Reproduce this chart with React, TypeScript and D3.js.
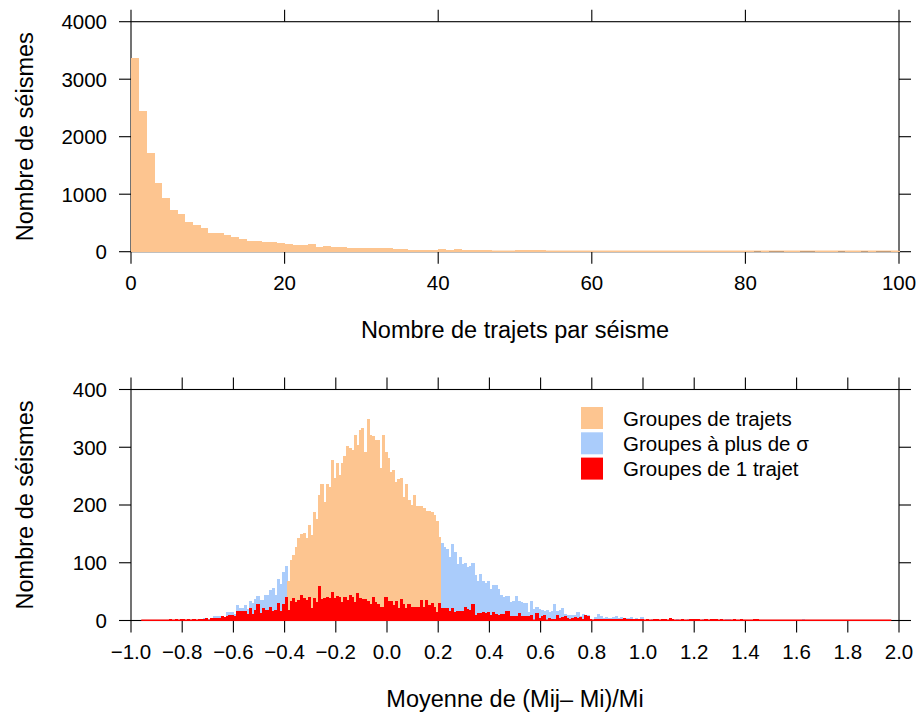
import React from "react";
import * as d3 from "d3";

// ---------- DATA ----------
// Top panel: number of paths per earthquake (bins of width 1, starting at 0)
const trajetsStart = 0;
const trajetsBinWidth = 1;
const trajetsCounts = [
  3370, 2445, 1717, 1196, 942, 728, 647, 520, 457, 416,
  329, 318, 295, 249, 225, 191, 191, 162, 162, 145,
  127, 110, 110, 127, 75, 104, 87, 87, 69, 69,
  69, 69, 69, 69, 52, 52, 35, 35, 35, 35,
  52, 35, 52, 35, 35, 35, 35, 17, 17, 17,
  35, 35, 35, 35, 17, 17, 17, 17, 17, 17,
  17, 17, 17, 17, 17, 17, 17, 17, 17, 17,
  17, 17, 17, 17, 17, 17, 17, 17, 17, 17,
  17, 0, 17, 0, 0, 17, 17, 0, 0, 17,
  17, 17, 0, 17, 17, 0, 17, 0, 0, 17,
];
const topXTicks = [0, 20, 40, 60, 80, 100];
const topYTicks = [0, 1000, 2000, 3000, 4000];

// Bottom panel: mean of (Mij - Mi)/Mi (bins of width 0.01)
const ratioBinWidth = 0.01;
const groupStart = -0.72; // all groups of paths
const groupCounts = [
  4, 5, 2, 3, 7, 7, 7, 7, 6, 14,
  14, 14, 11, 26, 22, 22, 26, 20, 33, 30,
  38, 42, 35, 35, 45, 45, 53, 57, 45, 71,
  64, 84, 94,
  69, 104, 113, 128, 143, 150, 151, 142, 166, 148,
  188, 175, 218, 236, 205, 236, 231, 278, 247, 273,
  252, 273, 284, 302, 298, 296, 321, 304, 330, 334,
  291, 349, 322, 319, 313, 313, 264, 321, 291, 282,
  257, 261, 240, 245, 247, 214, 237, 208, 200, 218,
  198, 198, 199, 195, 190, 190, 188, 182, 173, 145,
  134, 127, 123, 110, 132, 119, 98, 110, 97, 100,
  93, 94, 100, 78, 68, 81, 69, 65, 69, 54,
  62, 61, 55, 45, 40, 42, 43, 32, 33, 42,
  33, 32, 31, 31, 14, 33, 20, 24, 20, 19,
  17, 19, 15, 17, 28, 17, 19, 22, 12, 9,
  10, 10, 10, 14, 7, 12, 10, 9, 1, 3,
  6, 12, 7, 4, 6, 4, 5, 6, 7, 5,
  6, 5, 5, 5, 6, 2, 5,
  0, 6, 0, 0, 0, 2, 0, 0, 0, 2,
  0, 0, 0, 0, 0, 3, 0, 0, 0, 3,
  0, 0, 0, 2, 0, 3, 0, 0, 0, 3,
  2, 0, 0, 0, 2, 2, 0, 0, 0, 0,
  0, 0, 0, 0, 0, 0, 0, 0, 0, 0,
  0, 0, 0, 0, 0, 0, 0, 0, 0, 0,
  0, 0, 0, 0, 2,
];
const singleStart = -0.96; // groups of a single path
const singleCounts = [
  0, 0, 0, 0, 0, 0, 0, 0, 0, 0, 0,
  3, 0, 3, 0, 3, 3, 0, 3, 0, 3,
  0, 3, 3, 3, 5, 1, 5, 5, 5, 5,
  7, 6, 8, 9, 10, 8, 17, 16, 16, 16,
  12, 22, 12, 19, 28, 13, 22, 19, 19, 24,
  16, 19, 30, 17, 28, 40, 19,
  33, 39, 32, 35, 45, 39, 36, 40, 21, 39,
  32, 59, 38, 39, 41, 39, 49, 39, 42, 41,
  32, 40, 36, 45, 41, 32, 47, 39, 38, 38,
  33, 28, 40, 32, 28, 23, 23, 40, 33, 33,
  26, 33, 22, 38, 29, 21, 28, 23, 24, 23,
  24, 35, 24, 36, 27, 31, 23, 14, 30,
  21, 21, 21, 16, 21, 14, 16, 16, 16, 23,
  20, 19, 28, 9, 13, 13, 14, 13, 14, 10,
  14, 12, 10, 12, 12, 17, 16, 7, 7, 7,
  13, 7, 7, 7, 7, 10, 1, 13, 5, 7,
  9, 1, 5, 2, 2, 9, 5, 6, 7, 5,
  3, 5, 6, 5, 6, 3, 9, 7, 3, 1,
  3, 3, 2, 3, 2, 3, 2, 2, 2, 2,
  2, 5, 2, 2, 3, 2, 2,
  2, 2, 0, 2, 1, 0, 2, 3, 0, 2,
  2, 0, 5, 3, 0, 1, 0, 2, 0, 0,
  3, 3, 2, 2, 0, 0, 2, 0, 2, 2,
  3, 0, 2, 0, 0, 0, 0, 2, 0, 0,
  2, 1, 0, 0, 0, 2, 2, 0, 0, 0,
  0, 0, 0, 0, 0, 0, 0, 0, 0, 0,
  0, 0, 0, 0, 0, 0, 0, 0, 0, 0,
  0, 0, 0, 0, 0, 0, 0, 0, 0, 0,
  0, 0, 0, 0, 0, 0, 0, 0, 0, 0,
  0, 0, 0, 0, 0, 0, 0, 0, 0, 0,
];
const singleLineEnd = 1.97;
const sigmaRange = [-0.39, 0.21];
const bottomXTicks = d3.range(0, 16).map((i) => -1 + i * 0.2);
const bottomYTicks = [0, 100, 200, 300, 400];

const legendLabels = ["Groupes de trajets", "Groupes à plus de σ", "Groupes de 1 trajet"];
const ORANGE = "#FDC590";
const BLUE = "#AACCFB";
const RED = "#FF0000";
const legendColors = [ORANGE, BLUE, RED];

const FONT = "'Liberation Sans', Arial, Helvetica, sans-serif";
const TICK_FS = 20.5;
const TITLE_FS = 23.5;
const TICK_LEN = 12;

// ---------- LAYOUT ----------
const X0 = 131;
const X1 = 899;

type Scale = d3.ScaleLinear<number, number>;

function Frame({
  x, y, xTicks, yTicks, xFormat, labelBaseline,
}: {
  x: Scale; y: Scale; xTicks: number[]; yTicks: number[];
  xFormat: (v: number) => string; labelBaseline: number;
}) {
  const [xa, xb] = x.range();
  const [yb, ya] = y.range();
  const stroke = "#000";
  return (
    <g fill="none" stroke={stroke} strokeWidth={1.1}>
      <rect x={xa} y={ya} width={xb - xa} height={yb - ya} />
      {xTicks.map((t, i) => (
        <g key={"x" + i}>
          <line x1={x(t)} x2={x(t)} y1={yb} y2={yb + TICK_LEN} />
          <line x1={x(t)} x2={x(t)} y1={ya} y2={ya - TICK_LEN} />
          <text
            x={x(t)} y={labelBaseline} textAnchor="middle" stroke="none" fill="#000"
            fontFamily={FONT} fontSize={TICK_FS}
          >
            {xFormat(t)}
          </text>
        </g>
      ))}
      {yTicks.map((t, i) => (
        <g key={"y" + i}>
          <line x1={xa - TICK_LEN} x2={xa} y1={y(t)} y2={y(t)} />
          <line x1={xb} x2={xb + TICK_LEN} y1={y(t)} y2={y(t)} />
          <text
            x={xa - 24} y={y(t) + 7.3} textAnchor="end" stroke="none" fill="#000"
            fontFamily={FONT} fontSize={TICK_FS}
          >
            {String(t)}
          </text>
        </g>
      ))}
    </g>
  );
}

function Bars({
  counts, start, width, x, y, color,
}: {
  counts: number[]; start: number; width: number; x: Scale; y: Scale;
  color: (lo: number) => string;
}) {
  return (
    <g shapeRendering="crispEdges">
      {counts.map((c, i) => {
        if (c <= 0) return null;
        const lo = start + i * width;
        const hi = lo + width;
        const px0 = x(lo);
        const px1 = x(hi);
        return (
          <rect
            key={i}
            x={px0}
            y={y(c)}
            width={px1 - px0 + 0.5}
            height={y(0) - y(c)}
            fill={color(lo + width / 2)}
          />
        );
      })}
    </g>
  );
}

export default function App() {
  const xTop = d3.scaleLinear().domain([0, 100]).range([X0, X1]);
  const yTop = d3.scaleLinear().domain([0, 4000]).range([251.7, 21.7]);
  const xBot = d3.scaleLinear().domain([-1, 2]).range([X0, X1]);
  const yBot = d3.scaleLinear().domain([0, 400]).range([620.5, 389.5]);
  const fmt = d3.format(".1f");

  const groupColor = (mid: number) =>
    mid > sigmaRange[0] && mid < sigmaRange[1] ? ORANGE : BLUE;

  return (
    <svg
      width={919}
      height={713}
      style={{ position: "absolute", left: 0, top: 0, background: "#fff" }}
    >
      <rect x={0} y={0} width={919} height={713} fill="#fff" />

      {/* ---- Top panel ---- */}
      <Frame
        x={xTop} y={yTop} xTicks={topXTicks} yTicks={topYTicks}
        xFormat={(v) => String(v)} labelBaseline={289.5}
      />
      <Bars
        counts={trajetsCounts} start={trajetsStart} width={trajetsBinWidth}
        x={xTop} y={yTop} color={() => ORANGE}
      />
      <line
        x1={xTop(0) + 0.6} x2={xTop(100) - 0.6} y1={yTop(0) - 0.5} y2={yTop(0) - 0.5}
        stroke={ORANGE} strokeWidth={1.2}
      />
      <text
        x={(X0 + X1) / 2} y={338} textAnchor="middle" fontFamily={FONT} fontSize={TITLE_FS}
      >
        Nombre de trajets par séisme
      </text>
      <text
        transform={`translate(33,${(yTop(0) + yTop(4000)) / 2}) rotate(-90)`}
        textAnchor="middle" fontFamily={FONT} fontSize={TITLE_FS}
      >
        Nombre de séismes
      </text>

      {/* ---- Bottom panel ---- */}
      <Frame
        x={xBot} y={yBot} xTicks={bottomXTicks} yTicks={bottomYTicks}
        xFormat={(v) => fmt(Math.abs(v) < 1e-9 ? 0 : v)} labelBaseline={658.5}
      />
      <Bars
        counts={groupCounts} start={groupStart} width={ratioBinWidth}
        x={xBot} y={yBot} color={groupColor}
      />
      <Bars
        counts={singleCounts} start={singleStart} width={ratioBinWidth}
        x={xBot} y={yBot} color={() => RED}
      />
      <line
        x1={xBot(singleStart)} x2={xBot(singleLineEnd)} y1={yBot(0) - 0.3} y2={yBot(0) - 0.3}
        stroke={RED} strokeWidth={1.6}
      />
      <text
        x={(X0 + X1) / 2} y={707} textAnchor="middle" fontFamily={FONT} fontSize={TITLE_FS}
      >
        Moyenne de (Mij– Mi)/Mi
      </text>
      <text
        transform={`translate(33,${(yBot(0) + yBot(400)) / 2}) rotate(-90)`}
        textAnchor="middle" fontFamily={FONT} fontSize={TITLE_FS}
      >
        Nombre de séismes
      </text>

      {/* ---- Legend ---- */}
      <g>
        {legendLabels.map((lab, i) => (
          <g key={lab}>
            <rect x={581} y={407 + i * 25.3} width={22} height={22} fill={legendColors[i]} />
            <text
              x={623} y={425.5 + i * 25.3} fontFamily={FONT} fontSize={TICK_FS} fill="#000"
            >
              {lab}
            </text>
          </g>
        ))}
      </g>
    </svg>
  );
}
